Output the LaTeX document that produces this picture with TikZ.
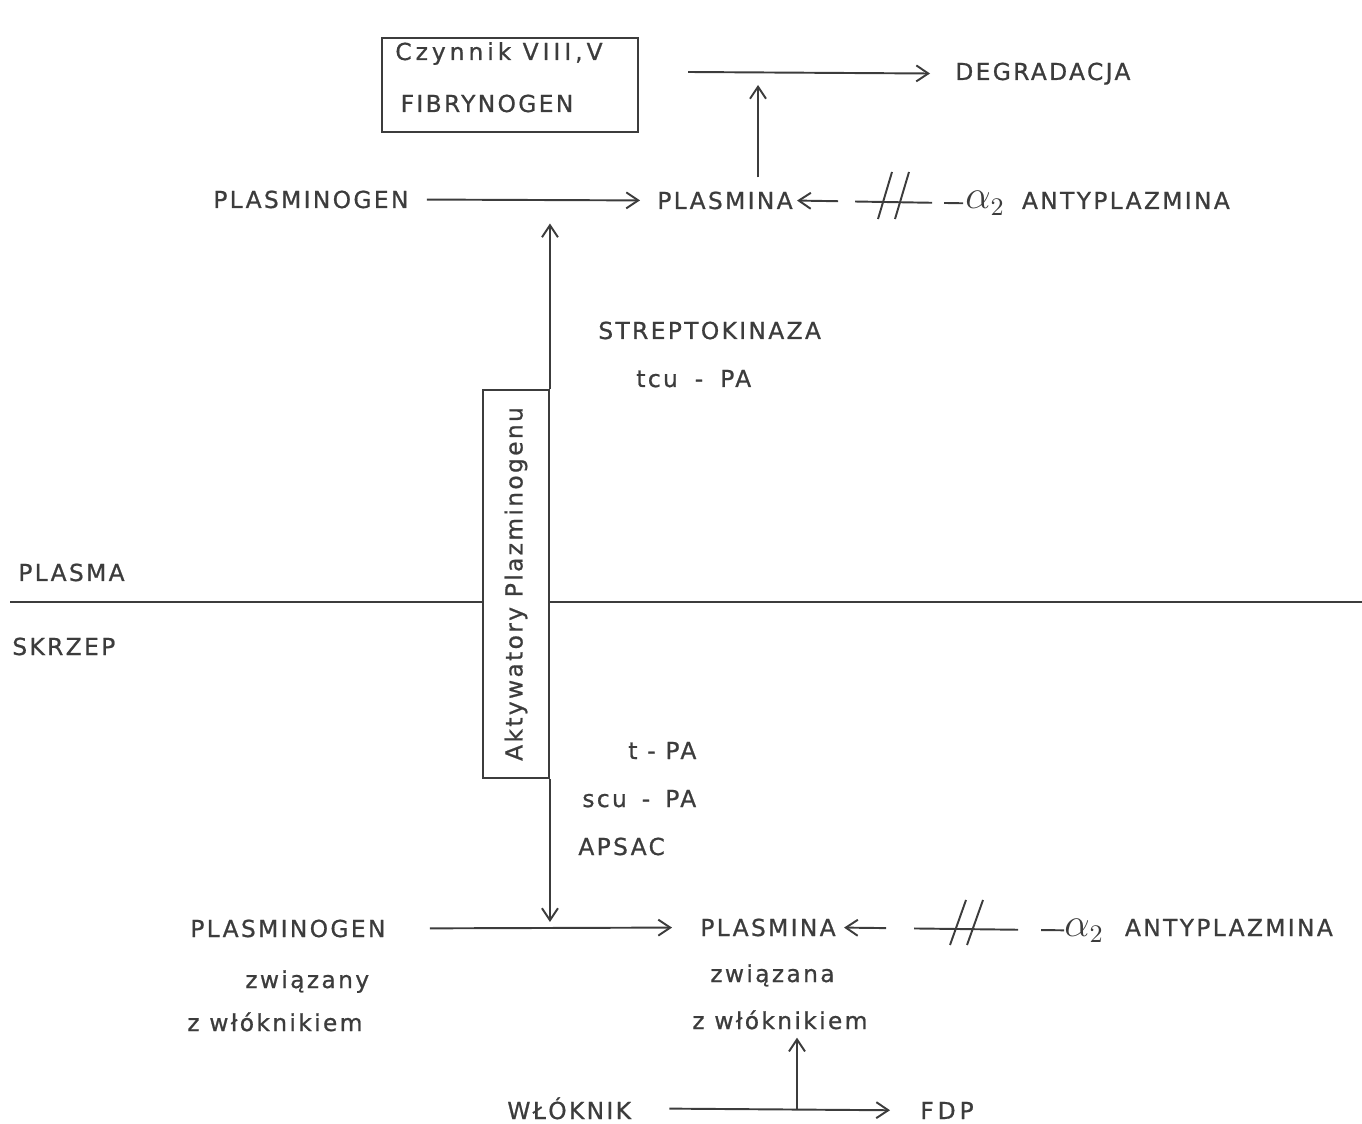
\documentclass[tikz,border=0pt]{standalone}
\usepackage{fontspec}
\setmainfont{DejaVu Sans}[LetterSpace=10,FakeBold=.8]
\usepackage{tikz}
\usetikzlibrary{arrows.meta,positioning,calc}
\definecolor{fibink}{RGB}{60,60,60}

\begin{document}
\begin{tikzpicture}[x=.02cm,y=-.02cm,
  font=\fontsize{13.3}{16}\selectfont,
  lbl/.style={inner sep=0pt,text=fibink},
  boxed/.style={draw=fibink,line width=1.1pt,inner sep=0pt,text=fibink},
  flow/.style={-{Straight Barb[length=2.4mm,width=3.2mm]},draw=fibink,line width=1.1pt},
  divider/.style={draw=fibink,line width=1.1pt}]

\path[use as bounding box] (0,0) rectangle (1362,1124);
% plasma side
\node[boxed,minimum width=5.12cm,minimum height=1.88cm] (factors) at (510,85) {};
\node[lbl,anchor=base] (czyn) at (499,60) {\addfontfeature{LetterSpace=17}Czynnik VIII,V};
\node[lbl,anchor=base] (fibr) at (487,112) {FIBRYNOGEN};
\node[lbl,anchor=base west] (degr) at (955,80) {DEGRADACJA};
\coordinate (degrL) at (688,72);
\coordinate (degrM) at (758,72);
\draw[flow,shorten >=5mm] (degrL) -- (degr.west);
\node[lbl,anchor=base west] (pg1) at (213,208) {PLASMINOGEN};
\node[lbl,anchor=base west] (pl1) at (657,209) {PLASMINA};
\node[lbl,anchor=base west] (anty1) at (965,209) {\scalebox{1.6}{$\alpha_2$}\hspace{3.4mm}ANTYPLAZMINA};
\draw[flow,shorten <=3.6mm,shorten >=3.4mm] (pg1.east) -- (pl1.west);
\draw[flow,shorten <=2.8mm,shorten >=2.6mm] (pl1.north -| degrM) -- (degrM);
\draw[flow,shorten <=.4mm,shorten >=.8mm,dash pattern=on 3.8mm off 2.4mm on 15.4mm off 3.4mm on 20mm]
  (anty1.west) -- (pl1.east);
\foreach \sx in {885,902}
  \draw[divider] (\sx-7,219) -- (\sx+7,172);
\node[lbl,anchor=base west] (strep) at (598,339) {STREPTOKINAZA};
\node[lbl,anchor=base west] (tcu) at (636,387) {tcu\hspace{3.4mm}-\hspace{3.4mm}PA};
\node[lbl,anchor=base west] (plasma) at (18,581) {PLASMA};
% aktywatory
\node[boxed,rotate=90,minimum width=7.76cm,minimum height=1.32cm] (akt) at (516,584) {Aktywatory Plazminogenu};
\draw[flow,shorten >=4.6mm] (akt.south east) -- (akt.south east |- pl1.west);
\draw[flow,shorten >=1mm] (akt.south west) -- (akt.south west |- 0,927);
\coordinate (divL) at (10,602);
\coordinate (divR) at (1362,602);
\draw[divider] (divL) -- (divL -| akt.north);
\draw[divider] (akt.south |- divR) -- (divR);
% skrzep side
\node[lbl,anchor=base west] (skrzep) at (12,655) {SKRZEP};
\node[lbl,anchor=base west] (tpa) at (628,759) {t - PA};
\node[lbl,anchor=base west] (scu) at (582,807) {scu\hspace{3mm}-\hspace{3mm}PA};
\node[lbl,anchor=base west] (apsac) at (578,855) {APSAC};
\node[lbl,anchor=base west] (pg2) at (190,937) {PLASMINOGEN};
\node[lbl,anchor=base west] (pl2) at (700,936) {PLASMINA};
\node[lbl,anchor=base west] (anty2) at (1064,936) {\scalebox{1.6}{$\alpha_2$}\hspace{4.2mm}ANTYPLAZMINA};
\draw[flow,shorten <=8.8mm,shorten >=5.6mm] (pg2.east) -- (pl2.west);
\draw[flow,shorten <=0mm,shorten >=1.6mm,dash pattern=on 4.6mm off 4.6mm on 20.8mm off 5.6mm on 20mm]
  (anty2.west) -- (pl2.east);
\foreach \sx in {958,975}
  \draw[divider] (\sx-8,945) -- (\sx+8,900);
\node[lbl,anchor=base west] (zw1) at (245,988) {związany};
\node[lbl,anchor=base west] (zwl1) at (187,1031) {z włóknikiem};
\node[lbl,anchor=base west] (zw2) at (710,982) {związana};
\node[lbl,anchor=base west] (zwl2) at (692,1029) {z włóknikiem};
\node[lbl,anchor=base west] (wl) at (507,1119) {WŁÓKNIK};
\node[lbl,anchor=base west] (fdp) at (920,1119) {F\,D\,P};
\coordinate (fmid) at (797,1110);
\draw[flow,shorten <=7.6mm,shorten >=6mm] (wl.east) -- (fdp.west);
\draw[flow,shorten <=.2mm,shorten >=1.6mm] (fmid) -- (fmid |- zwl2.south);

\end{tikzpicture}
\end{document}
